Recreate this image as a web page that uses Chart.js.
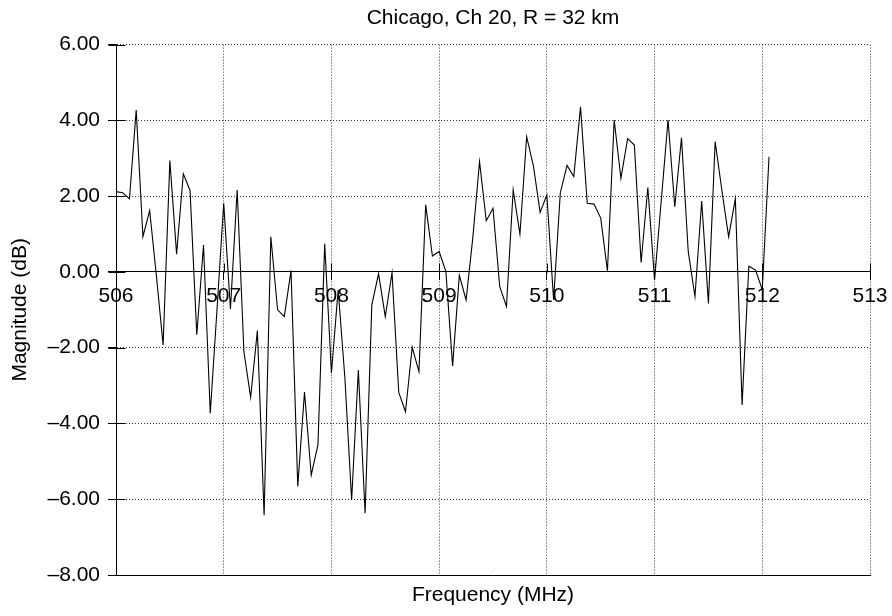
<!DOCTYPE html>
<html>
<head>
<meta charset="utf-8">
<title>Chicago, Ch 20, R = 32 km</title>
<script src="https://cdn.jsdelivr.net/npm/chart.js@4.4.1/dist/chart.umd.min.js"></script>
<style>
  html, body { margin: 0; padding: 0; background: #fff; }
  #wrap { width: 892px; height: 616px; }
</style>
</head>
<body>
<div id="wrap"><canvas id="chart" width="892" height="616"></canvas></div>
<script>
const TITLE = "Chicago, Ch 20, R = 32 km";
const X_LABEL = "Frequency (MHz)";
const Y_LABEL = "Magnitude (dB)";

// sweep starts at 506 MHz, one sample every 62.5 kHz
const freqStart = 506;
const freqStep = 0.0625;

// magnitude (dB) per sample
const magnitude = [
  2.12, 2.09, 1.93, 4.27, 0.93, 1.62, -0.10, -1.93, 2.94, 0.47,
  2.59, 2.15, -1.66, 0.71, -3.73, -1.00, 1.81, -0.98, 2.16, -2.10,
  -3.31, -1.55, -6.42, 0.93, -1.00, -1.18, 0.04, -5.66, -3.17, -5.36,
  -4.56, 0.74, -2.67, -0.47, -2.80, -6.02, -2.59, -6.37, -0.87, -0.05,
  -1.18, -0.02, -3.18, -3.69, -1.99, -2.63, 1.77, 0.42, 0.54, 0.01,
  -2.48, -0.09, -0.74, 0.90, 2.91, 1.35, 1.68, -0.39, -0.91, 2.16,
  1.00, 3.57, 2.80, 1.57, 2.03, -0.74, 2.09, 2.81, 2.52, 4.36,
  1.81, 1.79, 1.42, 0.03, 4.01, 2.47, 3.52, 3.35, 0.25, 2.23,
  -0.21, 1.90, 4.01, 1.72, 3.54, 0.54, -0.65, 1.87, -0.83, 3.44,
  2.15, 0.93, 1.93, -3.51, 0.15, 0.05, -0.47, 3.04,
];

const xTicks = [506, 507, 508, 509, 510, 511, 512, 513];
const yTicks = [-8, -6, -4, -2, 0, 2, 4, 6];

const FONT = "'Liberation Sans', Arial, Helvetica, sans-serif";
const GRID = "#333";

// tick marks cross the axis lines, chart.js only draws the outer half
const innerTicks = {
  id: "innerTicks",
  afterDraw(chart) {
    const { ctx, chartArea, scales } = chart;
    const x = scales.x;
    const y = scales.y;
    const left = Math.round(chartArea.left) + 0.5;
    const y0 = Math.round(y.getPixelForValue(0)) + 0.5;
    ctx.save();
    ctx.strokeStyle = "#000";
    ctx.lineWidth = 1;
    ctx.beginPath();
    x.ticks.forEach((t) => {
      const px = Math.round(x.getPixelForValue(t.value)) + 0.5;
      ctx.moveTo(px, y0 - 9);
      ctx.lineTo(px, y0);
    });
    y.ticks.forEach((t) => {
      const py = Math.round(y.getPixelForValue(t.value)) + 0.5;
      ctx.moveTo(left - 8, py);
      ctx.lineTo(left + 9, py);
    });
    ctx.stroke();
    ctx.restore();
  },
};

const points = magnitude.map((v, i) => ({ x: freqStart + i * freqStep, y: v }));

new Chart(document.getElementById("chart"), {
  type: "scatter",
  data: {
    datasets: [
      {
        data: points,
        showLine: true,
        borderColor: "#000",
        borderWidth: 1.1,
        pointRadius: 0,
        tension: 0,
      },
    ],
  },
  options: {
    responsive: false,
    animation: false,
    layout: { padding: { left: 0, right: 22, top: 0, bottom: 0 } },
    plugins: {
      legend: { display: false },
      tooltip: { enabled: false },
      title: {
        display: true,
        text: TITLE,
        fullSize: false,
        color: "#000",
        font: { family: FONT, size: 21, weight: "normal" },
        padding: { top: 6, bottom: 13.4 },
      },
    },
    scales: {
      x: {
        type: "linear",
        position: { y: 0 },
        min: 506,
        max: 513,
        afterBuildTicks: (s) => { s.ticks = xTicks.map((v) => ({ value: v })); },
        ticks: {
          color: "#000",
          font: { family: FONT, size: 21 },
          padding: 4,
          maxRotation: 0,
          callback: (v) => String(v),
        },
        grid: {
          color: GRID,
          lineWidth: 1,
          tickColor: "#000",
          tickLength: 8,
          tickBorderDash: [],
        },
        // in chart.js v4 border.dash styles the grid lines
        border: { display: true, color: "#000", width: 1, dash: [1, 2] },
      },
      xBottom: {
        type: "linear",
        axis: "x",
        position: "bottom",
        min: 506,
        max: 513,
        ticks: { display: false },
        grid: { display: false },
        border: { display: true, color: "#000", width: 1 },
        title: {
          display: true,
          text: X_LABEL,
          color: "#000",
          font: { family: FONT, size: 21 },
          padding: { top: 0, bottom: 8 },
        },
        afterFit: (s) => { s.height = 41; },
      },
      y: {
        type: "linear",
        min: -8,
        max: 6,
        afterBuildTicks: (s) => { s.ticks = yTicks.map((v) => ({ value: v })); },
        ticks: {
          color: "#000",
          font: { family: FONT, size: 21 },
          padding: 8,
          callback: (v) => (v < 0 ? "\u2013" + Math.abs(v).toFixed(2) : v.toFixed(2)),
        },
        grid: {
          color: GRID,
          lineWidth: 1,
          tickColor: "#000",
          tickLength: 8,
          tickBorderDash: [],
        },
        border: { display: true, color: "#000", width: 1, dash: [1, 2] },
        title: {
          display: true,
          text: Y_LABEL,
          color: "#000",
          font: { family: FONT, size: 21 },
          padding: { top: 8, bottom: 0 },
        },
        afterFit: (s) => { s.width = 116; },
      },
    },
  },
  plugins: [innerTicks],
});
</script>
</body>
</html>
